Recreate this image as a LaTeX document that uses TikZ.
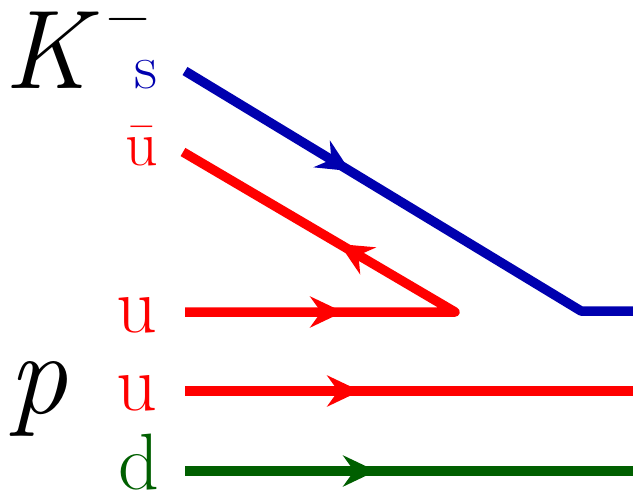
\documentclass[tikz,border=0pt]{standalone}
\usepackage{fontspec}
\usetikzlibrary{arrows.meta,decorations.markings}
\definecolor{qblue}{RGB}{0,0,175}
\definecolor{qred}{RGB}{255,0,0}
\definecolor{qgreen}{RGB}{0,95,0}

\begin{document}
\begin{tikzpicture}[x=1pt, y=-1pt, quark/.style={line width=9.5pt, line join=round}, qtip/.tip={Stealth[length=33pt, width=31pt, inset=11pt]}, flow/.style={postaction={decorate, decoration={markings, mark=at position #1 with {\arrow{qtip}}}}}, flavour/.style={anchor=base east, inner sep=0pt, font=\fontsize{80}{80}\selectfont}, small/.style={font=\fontsize{64}{64}\selectfont}, hadron/.style={anchor=base west, inner sep=0pt, font=\fontsize{112}{112}\selectfont\itshape}]
\useasboundingbox (0,0) rectangle (633,498);
% hadrons
\node[hadron] (kaon) at (4,88) {K\hspace{18pt}\raisebox{54pt}{\fontsize{60}{60}\selectfont\upshape −}};
\node[hadron] (proton) at (8,413) {\fontsize{118}{118}\selectfont p};
% quark labels
\node[flavour, small, text=qblue] (s) at (158,88) {s};
\node[flavour, small, text=qred] (ubar) at (158,165) {ū};
\node[flavour, text=qred] (u1) at (158,332) {u};
\node[flavour, text=qred] (u2) at (158,410) {u};
\node[flavour, text=qgreen] (d) at (160,489) {d};
% line ends
\coordinate (sL) at (185,71);
\coordinate (sK) at (581,311);
\coordinate (sR) at (640,311);
\coordinate (ubarL) at (183,152);
\coordinate (uK) at (455,312);
\coordinate (u1L) at (185,312);
\coordinate (u2L) at (185,391);
\coordinate (u2R) at (640,391);
\coordinate (dL) at (185,471);
\coordinate (dR) at (640,471);
% quark lines
\draw[quark, qblue, flow=0.37] (sL) -- (sK) -- (sR);
\draw[quark, qred, flow=0.27, flow=0.69] (u1L) -- (uK) -- (ubarL);
\draw[quark, qred, flow=0.385] (u2L) -- (u2R);
\draw[quark, qgreen, flow=0.42] (dL) -- (dR);
\end{tikzpicture}
\end{document}
